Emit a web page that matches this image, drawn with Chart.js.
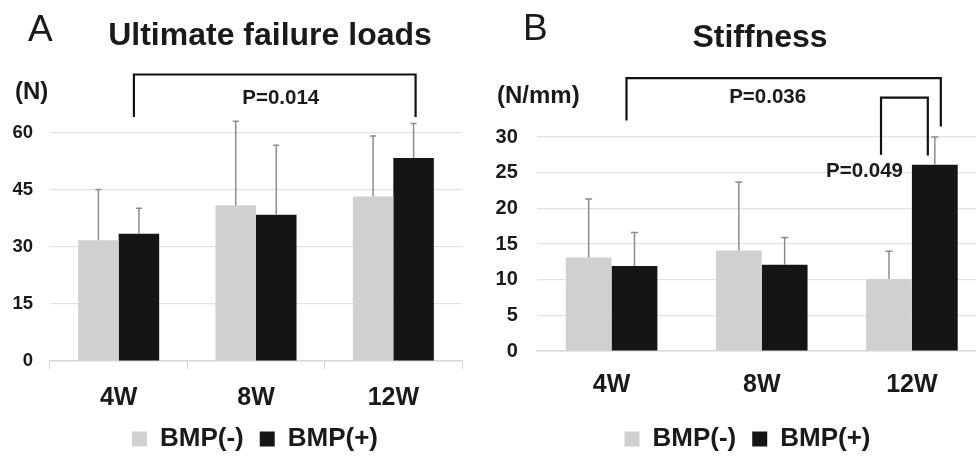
<!DOCTYPE html>
<html><head><meta charset="utf-8">
<script src="https://cdn.jsdelivr.net/npm/chart.js@4.4.1/dist/chart.umd.min.js"></script>
<style>
html,body{margin:0;padding:0;background:#fff;overflow:hidden;width:976px;height:459px;}
#wrap{position:relative;width:976px;height:459px;overflow:hidden;background:#fff;}
#cA{position:absolute;left:0;top:0;}
#cB{position:absolute;left:480px;top:0;}
</style></head><body>
<div id="wrap"><canvas id="cA" width="470" height="459"></canvas><canvas id="cB" width="515" height="459"></canvas></div>
<script>
// ---- data ----
const categories = ['4W', '8W', '12W'];
const seriesNames = ['BMP(-)', 'BMP(+)'];
const loadBmpNeg = [31.8, 41.0, 43.3];
const loadBmpPos = [33.5, 38.5, 53.4];
const loadSdNeg = [13.3, 22.1, 15.9];
const loadSdPos = [6.7, 18.3, 9.1];
const loadTicks = [0, 15, 30, 45, 60];
const stiffBmpNeg = [13.1, 14.1, 10.1];
const stiffBmpPos = [11.9, 12.1, 26.1];
const stiffSdNeg = [8.2, 9.6, 3.9];
const stiffSdPos = [4.7, 3.8, 3.9];
const stiffTicks = [0, 5, 10, 15, 20, 25, 30];

// ---- style ----
const FONT = '"Liberation Sans", Arial, Helvetica, sans-serif';
const TEXT = '#1a1a1a';
const GRAY = '#cfd0cf';
const BLACK = '#151515';
const GRID = '#e3e3e3';

const annotPlugin = {
  id: 'annot',
  afterDatasetsDraw(chart, args, o) {
    const ctx = chart.ctx, y = chart.scales.y;
    ctx.save();
    // error bars (upper)
    chart.data.datasets.forEach((ds, di) => {
      const meta = chart.getDatasetMeta(di);
      meta.data.forEach((bar, i) => {
        const yBase = y.getPixelForValue(ds.data[i]);
        const yTop = y.getPixelForValue(ds.data[i] + ds.sd[i]);
        ctx.strokeStyle = o.errColor;
        ctx.lineWidth = 1.5;
        ctx.beginPath();
        ctx.moveTo(bar.x, yBase);
        ctx.lineTo(bar.x, yTop);
        ctx.moveTo(bar.x - o.cap, yTop);
        ctx.lineTo(bar.x + o.cap, yTop);
        ctx.stroke();
      });
    });
    const ax = (a) => chart.getDatasetMeta(a.ds).data[a.i].x + a.dx;
    // brackets
    ctx.strokeStyle = '#111';
    ctx.lineWidth = 2.2;
    ctx.lineJoin = 'miter';
    o.brackets.forEach(b => {
      const x1 = ax(b.from), x2 = ax(b.to);
      const yt = y.getPixelForValue(b.top);
      ctx.beginPath();
      ctx.moveTo(x1, y.getPixelForValue(b.foot1));
      ctx.lineTo(x1, yt);
      ctx.lineTo(x2, yt);
      ctx.lineTo(x2, y.getPixelForValue(b.foot2));
      ctx.stroke();
    });
    // p-values
    ctx.fillStyle = TEXT;
    ctx.textBaseline = 'alphabetic';
    o.pvals.forEach(p => {
      ctx.font = 'bold 20.5px ' + FONT;
      ctx.textAlign = p.align;
      ctx.fillText(p.text, ax(p.at), y.getPixelForValue(p.yVal));
    });
    // headings
    o.texts.forEach(t => {
      ctx.font = t.font + ' ' + FONT;
      ctx.textAlign = t.align;
      ctx.fillText(t.text, t.x, t.y);
    });
    ctx.restore();
  }
};

function makeChart(id, cfg) {
  return new Chart(document.getElementById(id), {
    type: 'bar',
    data: {
      labels: categories,
      datasets: [
        { label: seriesNames[0], data: cfg.neg, sd: cfg.sdNeg, backgroundColor: GRAY, borderWidth: 0,
          categoryPercentage: cfg.catPct, barPercentage: 1.0 },
        { label: seriesNames[1], data: cfg.pos, sd: cfg.sdPos, backgroundColor: BLACK, borderWidth: 0,
          categoryPercentage: cfg.catPct, barPercentage: 1.0 }
      ]
    },
    options: {
      responsive: false,
      animation: false,
      devicePixelRatio: 1,
      layout: { padding: cfg.padding },
      scales: {
        x: {
          grid: { display: cfg.xTicks, drawOnChartArea: false, drawTicks: cfg.xTicks, tickLength: 8, color: '#d6d6d6', offset: true },
          border: { display: true, color: '#d9d9d9', width: 1.5 },
          ticks: { color: TEXT, font: { family: FONT, size: 25, weight: 'bold' }, padding: cfg.xPad },
          afterFit: s => { s.height = cfg.xHeight; }
        },
        y: {
          min: 0, max: cfg.ticks[cfg.ticks.length - 1],
          afterBuildTicks: s => { s.ticks = cfg.ticks.map(v => ({ value: v })); },
          grid: { color: GRID, lineWidth: 1.2, drawTicks: false },
          border: { display: false },
          ticks: { color: TEXT, font: { family: FONT, size: cfg.yFont, weight: 'bold' },
                   mirror: true, crossAlign: 'far', padding: cfg.yPad },
          afterFit: s => { s.width = cfg.yWidth; }
        }
      },
      plugins: {
        legend: {
          position: 'bottom',
          labels: { color: TEXT, font: { family: FONT, size: 26, weight: 'bold' }, boxWidth: 15, boxHeight: 15, padding: 16 }
        },
        tooltip: { enabled: false },
        annot: cfg.annot
      }
    },
    plugins: [annotPlugin]
  });
}

makeChart('cA', {
  neg: loadBmpNeg, pos: loadBmpPos, sdNeg: loadSdNeg, sdPos: loadSdPos, ticks: loadTicks,
  catPct: 0.59, padding: { left: 48, right: 8, top: 133, bottom: -3 },
  xTicks: true, xPad: 14, xHeight: 49, yFont: 18.5, yPad: -37.6, yWidth: 2,
  annot: {
    errColor: '#8c8c8c', cap: 3,
    brackets: [ { from: { ds: 1, i: 0, dx: -5 }, to: { ds: 1, i: 2, dx: 2 }, top: 75.4, foot1: 64.2, foot2: 64.2 } ],
    pvals: [ { text: 'P=0.014', at: { ds: 1, i: 1, dx: 4.5 }, yVal: 67.7, align: 'center' } ],
    texts: [
      { text: 'A', x: 28, y: 41, font: 'normal 37px', align: 'left' },
      { text: 'Ultimate failure loads', x: 270, y: 45, font: 'bold 32px', align: 'center' },
      { text: '(N)', x: 15, y: 99, font: 'bold 24px', align: 'left' }
    ]
  }
});

makeChart('cB', {
  neg: stiffBmpNeg, pos: stiffBmpPos, sdNeg: stiffSdNeg, sdPos: stiffSdPos, ticks: stiffTicks,
  catPct: 0.61, padding: { left: 28, right: 8, top: 137, bottom: -3 },
  xTicks: false, xPad: 19, xHeight: 59, yFont: 20, yPad: -40.9, yWidth: 28.5,
  annot: {
    errColor: '#8c8c8c', cap: 3.5,
    brackets: [
      { from: { ds: 1, i: 0, dx: -8 }, to: { ds: 1, i: 2, dx: 6 }, top: 38.26, foot1: 32.3, foot2: 31.46 },
      { from: { ds: 0, i: 2, dx: -8 }, to: { ds: 1, i: 2, dx: -7 }, top: 35.53, foot1: 27.5, foot2: 27.4 }
    ],
    pvals: [
      { text: 'P=0.036', at: { ds: 1, i: 1, dx: -17 }, yVal: 34.75, align: 'center' },
      { text: 'P=0.049', at: { ds: 0, i: 2, dx: 14 }, yVal: 24.44, align: 'right' }
    ],
    texts: [
      { text: 'B', x: 43, y: 40, font: 'normal 37px', align: 'left' },
      { text: 'Stiffness', x: 280, y: 47, font: 'bold 32px', align: 'center' },
      { text: '(N/mm)', x: 17, y: 103, font: 'bold 24px', align: 'left' }
    ]
  }
});
</script>
</body></html>
